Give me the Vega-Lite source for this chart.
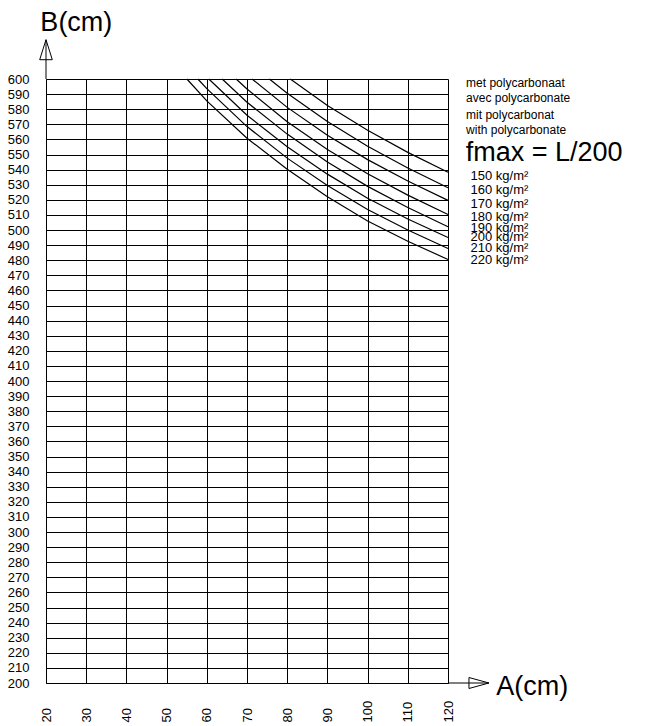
{
  "$schema": "https://vega.github.io/schema/vega-lite/v6.json",
  "autosize": {"type": "none"},
  "padding": {"left": 46, "top": 79, "right": 223, "bottom": 43},
  "width": 402,
  "height": 604,
  "background": "white",
  "config": {
    "font": "Liberation Sans",
    "view": {"stroke": null},
    "axis": {"labelFont": "Liberation Sans", "labelColor": "#000"}
  },
  "datasets": {
    "curves": [
      {"load": "150 kg/m²", "A": 80.77, "B": 600},
      {"load": "150 kg/m²", "A": 90, "B": 582.5},
      {"load": "150 kg/m²", "A": 100, "B": 566.0},
      {"load": "150 kg/m²", "A": 110, "B": 551.4},
      {"load": "150 kg/m²", "A": 120, "B": 538.3},
      {"load": "160 kg/m²", "A": 75.56, "B": 600},
      {"load": "160 kg/m²", "A": 80, "B": 590.6},
      {"load": "160 kg/m²", "A": 90, "B": 571.8},
      {"load": "160 kg/m²", "A": 100, "B": 555.4},
      {"load": "160 kg/m²", "A": 110, "B": 541.0},
      {"load": "160 kg/m²", "A": 120, "B": 528.0},
      {"load": "170 kg/m²", "A": 71.27, "B": 600},
      {"load": "170 kg/m²", "A": 80, "B": 581.2},
      {"load": "170 kg/m²", "A": 90, "B": 562.7},
      {"load": "170 kg/m²", "A": 100, "B": 546.6},
      {"load": "170 kg/m²", "A": 110, "B": 532.4},
      {"load": "170 kg/m²", "A": 120, "B": 519.6},
      {"load": "180 kg/m²", "A": 67.3, "B": 600},
      {"load": "180 kg/m²", "A": 70, "B": 593.4},
      {"load": "180 kg/m²", "A": 80, "B": 571.7},
      {"load": "180 kg/m²", "A": 90, "B": 553.3},
      {"load": "180 kg/m²", "A": 100, "B": 537.2},
      {"load": "180 kg/m²", "A": 110, "B": 523.1},
      {"load": "180 kg/m²", "A": 120, "B": 510.3},
      {"load": "190 kg/m²", "A": 63.82, "B": 600},
      {"load": "190 kg/m²", "A": 70, "B": 584.6},
      {"load": "190 kg/m²", "A": 80, "B": 563.5},
      {"load": "190 kg/m²", "A": 90, "B": 545.0},
      {"load": "190 kg/m²", "A": 100, "B": 528.9},
      {"load": "190 kg/m²", "A": 110, "B": 514.9},
      {"load": "190 kg/m²", "A": 120, "B": 502.2},
      {"load": "200 kg/m²", "A": 60.5, "B": 600},
      {"load": "200 kg/m²", "A": 70, "B": 576.0},
      {"load": "200 kg/m²", "A": 80, "B": 555.2},
      {"load": "200 kg/m²", "A": 90, "B": 537.0},
      {"load": "200 kg/m²", "A": 100, "B": 521.0},
      {"load": "200 kg/m²", "A": 110, "B": 507.3},
      {"load": "200 kg/m²", "A": 120, "B": 495.0},
      {"load": "210 kg/m²", "A": 57.77, "B": 600},
      {"load": "210 kg/m²", "A": 60, "B": 593.6},
      {"load": "210 kg/m²", "A": 70, "B": 568.5},
      {"load": "210 kg/m²", "A": 80, "B": 547.6},
      {"load": "210 kg/m²", "A": 90, "B": 529.5},
      {"load": "210 kg/m²", "A": 100, "B": 513.6},
      {"load": "210 kg/m²", "A": 110, "B": 500.0},
      {"load": "210 kg/m²", "A": 120, "B": 487.7},
      {"load": "220 kg/m²", "A": 55.04, "B": 600},
      {"load": "220 kg/m²", "A": 60, "B": 585.5},
      {"load": "220 kg/m²", "A": 70, "B": 560.8},
      {"load": "220 kg/m²", "A": 80, "B": 540.2},
      {"load": "220 kg/m²", "A": 90, "B": 522.0},
      {"load": "220 kg/m²", "A": 100, "B": 506.0},
      {"load": "220 kg/m²", "A": 110, "B": 492.5},
      {"load": "220 kg/m²", "A": 120, "B": 480.5}
    ],
    "arrows": [
      {"A": 20, "B": 600, "A2": 20, "B2": 626},
      {"A": 120, "B": 200, "A2": 130.2, "B2": 200}
    ],
    "headUp": [{"A": 20, "B": 619.4}],
    "headRight": [{"A": 127.7, "B": 200}],
    "titles": [
      {"A": 18.6, "B": 631.5, "text": "B(cm)"},
      {"A": 132.0, "B": 192.2, "text": "A(cm)"},
      {"A": 124.4, "B": 545.4, "text": "fmax = L/200"}
    ],
    "header": [
      {"A": 124.5, "B": 594.7, "text": "met polycarbonaat"},
      {"A": 124.5, "B": 584.5, "text": "avec polycarbonate"},
      {"A": 124.5, "B": 573.7, "text": "mit polycarbonat"},
      {"A": 124.5, "B": 563.6, "text": "with polycarbonate"}
    ],
    "loads": [
      {"A": 125.6, "B": 532.8, "text": "150 kg/m²"},
      {"A": 125.6, "B": 524.0, "text": "160 kg/m²"},
      {"A": 125.6, "B": 514.3, "text": "170 kg/m²"},
      {"A": 125.6, "B": 505.7, "text": "180 kg/m²"},
      {"A": 125.6, "B": 498.4, "text": "190 kg/m²"},
      {"A": 125.6, "B": 492.5, "text": "200 kg/m²"},
      {"A": 125.6, "B": 485.2, "text": "210 kg/m²"},
      {"A": 125.6, "B": 477.7, "text": "220 kg/m²"}
    ]
  },
  "layer": [
    {
      "data": {"name": "curves"},
      "mark": {"type": "line", "color": "#000", "strokeWidth": 1.2},
      "encoding": {
        "x": {
          "field": "A", "type": "quantitative",
          "scale": {"domain": [20, 120], "nice": false, "zero": false},
          "axis": {
            "title": null,
            "values": [20, 30, 40, 50, 60, 70, 80, 90, 100, 110, 120],
            "tickCount": 11,
            "grid": true, "gridColor": "#000", "gridOpacity": 1, "gridWidth": 1,
            "domain": true, "domainColor": "#000", "domainWidth": 1,
            "ticks": false,
            "labelAngle": -90, "labelAlign": "left", "labelBaseline": "middle",
            "labelPadding": 39, "labelFontSize": 13,
            "labelOverlap": false, "labelFlush": false
          }
        },
        "y": {
          "field": "B", "type": "quantitative",
          "scale": {"domain": [200, 600], "nice": false, "zero": false},
          "axis": {
            "title": null,
            "values": [200, 210, 220, 230, 240, 250, 260, 270, 280, 290, 300, 310, 320, 330, 340, 350, 360, 370, 380, 390, 400, 410, 420, 430, 440, 450, 460, 470, 480, 490, 500, 510, 520, 530, 540, 550, 560, 570, 580, 590, 600],
            "tickCount": 41,
            "grid": true, "gridColor": "#000", "gridOpacity": 1, "gridWidth": 1,
            "domain": true, "domainColor": "#000", "domainWidth": 1,
            "ticks": false,
            "labelPadding": 17, "labelFontSize": 13,
            "labelOverlap": false, "labelFlush": false
          }
        },
        "detail": {"field": "load", "type": "nominal"},
        "order": {"field": "A", "type": "quantitative"}
      }
    },
    {
      "data": {"name": "arrows"},
      "mark": {"type": "rule", "color": "#000", "strokeWidth": 1},
      "encoding": {
        "x": {"field": "A", "type": "quantitative"},
        "x2": {"field": "A2"},
        "y": {"field": "B", "type": "quantitative"},
        "y2": {"field": "B2"}
      }
    },
    {
      "data": {"name": "headUp"},
      "mark": {"type": "point", "shape": "M0,-1L0.63,1L-0.63,1Z", "size": 400, "filled": false, "stroke": "#000", "strokeWidth": 1, "opacity": 1},
      "encoding": {
        "x": {"field": "A", "type": "quantitative"},
        "y": {"field": "B", "type": "quantitative"}
      }
    },
    {
      "data": {"name": "headRight"},
      "mark": {"type": "point", "shape": "M1,0L-1,-0.55L-1,0.55Z", "size": 400, "filled": false, "stroke": "#000", "strokeWidth": 1, "opacity": 1},
      "encoding": {
        "x": {"field": "A", "type": "quantitative"},
        "y": {"field": "B", "type": "quantitative"}
      }
    },
    {
      "data": {"name": "titles"},
      "mark": {"type": "text", "align": "left", "baseline": "alphabetic", "fontSize": 27, "color": "#000"},
      "encoding": {
        "x": {"field": "A", "type": "quantitative"},
        "y": {"field": "B", "type": "quantitative"},
        "text": {"field": "text"}
      }
    },
    {
      "data": {"name": "header"},
      "mark": {"type": "text", "align": "left", "baseline": "alphabetic", "fontSize": 12, "color": "#000"},
      "encoding": {
        "x": {"field": "A", "type": "quantitative"},
        "y": {"field": "B", "type": "quantitative"},
        "text": {"field": "text"}
      }
    },
    {
      "data": {"name": "loads"},
      "mark": {"type": "text", "align": "left", "baseline": "alphabetic", "fontSize": 13, "color": "#000"},
      "encoding": {
        "x": {"field": "A", "type": "quantitative"},
        "y": {"field": "B", "type": "quantitative"},
        "text": {"field": "text"}
      }
    }
  ]
}
